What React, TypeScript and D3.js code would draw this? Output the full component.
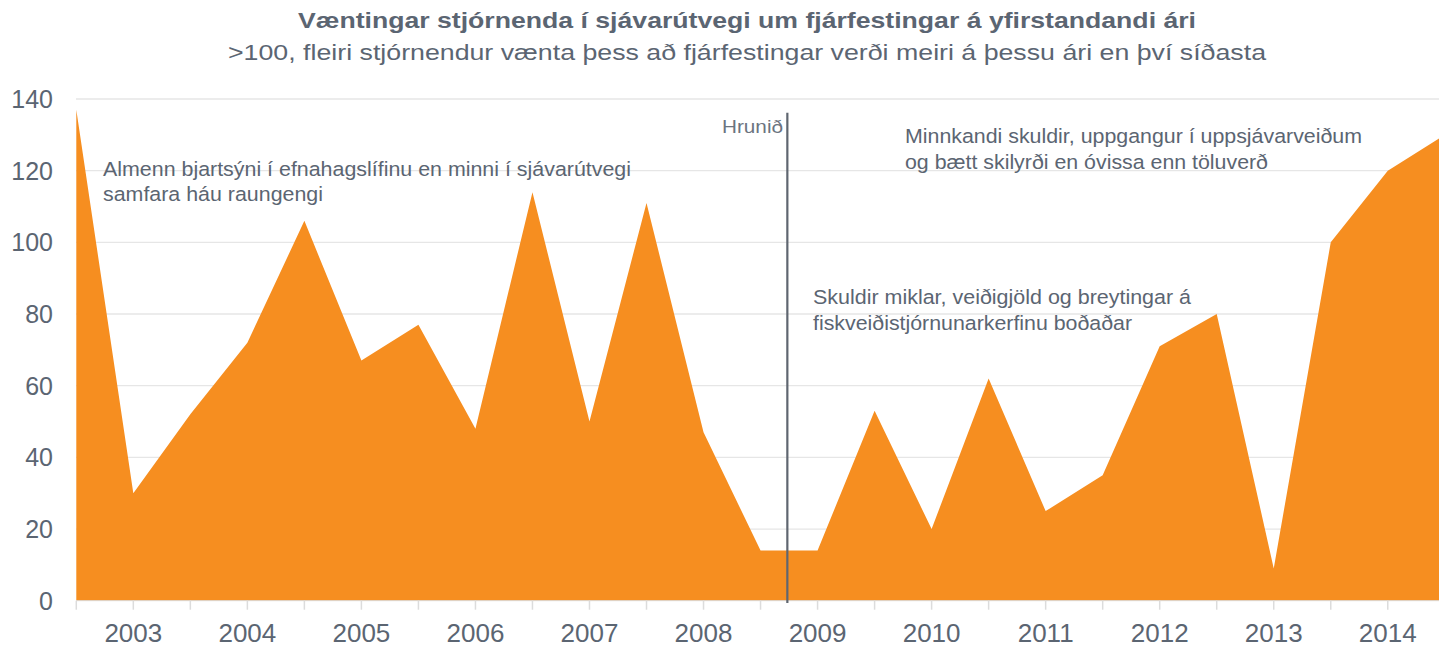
import React from "react";
import * as d3 from "d3";

const periods = [
  "2002 H2", "2003 H1", "2003 H2", "2004 H1", "2004 H2", "2005 H1", "2005 H2",
  "2006 H1", "2006 H2", "2007 H1", "2007 H2", "2008 H1", "2008 H2", "2009 H1",
  "2009 H2", "2010 H1", "2010 H2", "2011 H1", "2011 H2", "2012 H1", "2012 H2",
  "2013 H1", "2013 H2", "2014 H1", "2014 H2",
];
const values = [
  137, 30, 52, 72, 106, 67, 77, 48, 114, 50, 111, 47, 14, 14, 53, 20, 62, 25, 35,
  71, 80, 9, 100, 120, 130,
];
const yearLabels = ["2003", "2004", "2005", "2006", "2007", "2008", "2009", "2010", "2011", "2012", "2013", "2014"];
const yearPeriods = yearLabels.map((y) => `${y} H1`);
const yTicks = [0, 20, 40, 60, 80, 100, 120, 140];

const title = "Væntingar stjórnenda í sjávarútvegi um fjárfestingar á yfirstandandi ári";
const subtitle = ">100, fleiri stjórnendur vænta þess að fjárfestingar verði meiri á þessu ári en því síðasta";
const crashLabel = "Hrunið";
const crashPos = 12.47; // index position between 2008 H2 and 2009 H1

const annotations = [
  { x: 103, y: 175.5, w: 528, text: "Almenn bjartsýni í efnahagslífinu en minni í sjávarútvegi" },
  { x: 103, y: 200.5, w: 220, text: "samfara háu raungengi" },
  { x: 905, y: 143.3, w: 457, text: "Minnkandi skuldir, uppgangur í uppsjávarveiðum" },
  { x: 905, y: 169.3, w: 363, text: "og bætt skilyrði en óvissa enn töluverð" },
  { x: 813, y: 304.3, w: 378, text: "Skuldir miklar, veiðigjöld og breytingar á" },
  { x: 813, y: 330, w: 319, text: "fiskveiðistjórnunarkerfinu boðaðar" },
];

const TEXT = "#5b6572";
const FONT = "'Liberation Sans', Arial, sans-serif";

export default function App() {
  const W = 1439;
  const H = 646;
  const x = d3.scalePoint<string>().domain(periods).range([76.3, 1444.8]);
  const y = d3.scaleLinear().domain([0, 140]).range([600.7, 99]);
  const step = x.step();
  const data = periods.map((p, i) => ({ p, v: values[i] }));
  const area = d3
    .area<{ p: string; v: number }>()
    .x((d) => x(d.p) as number)
    .y0(y(0))
    .y1((d) => y(d.v));
  const crashX = (x(periods[0]) as number) + crashPos * step;

  return (
    <svg
      width={W}
      height={H}
      style={{ position: "absolute", left: 0, top: 0, background: "#fff" }}
      fontFamily={FONT}
    >
      {yTicks.filter((t) => t > 0).map((t) => (
        <line key={t} x1={76} x2={W} y1={y(t)} y2={y(t)} stroke="#e6e6e6" strokeWidth={1.3} />
      ))}
      <path d={area(data) || ""} fill="#F68E20" />
      <line x1={76} x2={W} y1={y(0)} y2={y(0)} stroke="#dcdcdc" strokeWidth={1} />
      {periods.map((p) => (
        <line key={p} x1={x(p)} x2={x(p)} y1={y(0)} y2={y(0) + 9} stroke="#dcdcdc" strokeWidth={1.5} />
      ))}
      {yTicks.map((t) => (
        <text key={t} x={53} y={y(t)} dy="0.36em" textAnchor="end" fontSize={25} fill={TEXT}>
          {t}
        </text>
      ))}
      {yearLabels.map((lab, i) => (
        <text key={lab} x={x(yearPeriods[i])} y={641.5} textAnchor="middle" fontSize={26} fill={TEXT}>
          {lab}
        </text>
      ))}
      <line x1={crashX} x2={crashX} y1={112.7} y2={603} stroke="#5f6670" strokeWidth={2.2} />
      <text x={722} y={132.7} fontSize={18} fill="#6b7480" textLength={61} lengthAdjust="spacingAndGlyphs">
        {crashLabel}
      </text>
      {annotations.map((a, i) => (
        <text key={i} x={a.x} y={a.y} fontSize={20.5} fill={TEXT} textLength={a.w} lengthAdjust="spacingAndGlyphs">
          {a.text}
        </text>
      ))}
      <text x={298} y={28} fontSize={22.5} fontWeight="bold" fill={TEXT} textLength={898} lengthAdjust="spacingAndGlyphs">
        {title}
      </text>
      <text x={228} y={60} fontSize={22} fill={TEXT} textLength={1038} lengthAdjust="spacingAndGlyphs">
        {subtitle}
      </text>
    </svg>
  );
}
